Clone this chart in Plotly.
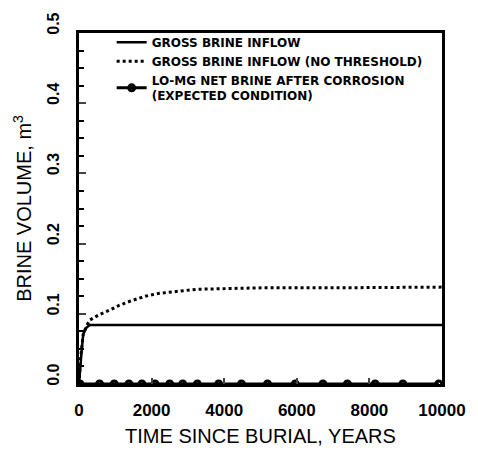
import plotly.graph_objects as go

# Gross brine inflow (with threshold)
gross_t = [0, 40, 80, 117, 200, 296, 1000, 3000, 5000, 7000, 10000]
gross_v = [0.0, 0.035, 0.052, 0.071, 0.080, 0.084, 0.084, 0.084, 0.084, 0.084, 0.084]

# Gross brine inflow (no threshold)
nothr_t = [0, 40, 117, 200, 296, 566, 836, 1105, 1464, 1824, 2183, 2542, 2902, 3261, 4160, 5050, 6850, 8500, 10000]
nothr_v = [0.0, 0.035, 0.071, 0.082, 0.091, 0.099, 0.105, 0.112, 0.119, 0.125, 0.129, 0.131, 0.134, 0.135, 0.136, 0.137, 0.137, 0.138, 0.138]

# Lo-Mg net brine after corrosion (expected condition)
net_t = [27, 566, 970, 1375, 1733, 2094, 2498, 2857, 3261, 3846, 4474, 5193, 5957, 6720, 7394, 8158, 8922, 9911]
net_v = [0.0] * len(net_t)

x_ticks = [0, 2000, 4000, 6000, 8000, 10000]
x_ticklabels = ["0", "2000", "4000", "6000", "8000", "10000"]
y_ticks = [0.0, 0.1, 0.2, 0.3, 0.4, 0.5]
y_ticklabels = ["0.0", "0.1", "0.2", "0.3", "0.4", "0.5"]

FONT = "Liberation Sans"
LFONT = "DejaVu Sans"

fig = go.Figure()
fig.add_trace(go.Scatter(
    x=gross_t, y=gross_v, mode="lines", name="GROSS BRINE INFLOW",
    line=dict(color="black", width=2.5)))
fig.add_trace(go.Scatter(
    x=nothr_t, y=nothr_v, mode="lines", name="GROSS BRINE INFLOW (NO THRESHOLD)",
    line=dict(color="black", width=3, dash="dot")))
fig.add_trace(go.Scatter(
    x=net_t, y=net_v, mode="lines+markers",
    name="LO-MG NET BRINE AFTER CORROSION<br>(EXPECTED CONDITION)",
    line=dict(color="black", width=3),
    marker=dict(symbol="circle-open", size=6, color="black", line=dict(width=3))))

fig.update_layout(
    width=478, height=456,
    margin=dict(l=79, r=28, t=25, b=68),
    plot_bgcolor="white", paper_bgcolor="white",
    font=dict(family=FONT, color="black"),
    showlegend=True,
    legend=dict(x=0.09, y=1.015, xanchor="left", yanchor="top",
                bgcolor="rgba(0,0,0,0)", itemwidth=30, tracegroupgap=0,
                font=dict(family=LFONT, size=12, weight="bold", color="black")),
    xaxis=dict(range=[0, 10000], tickvals=x_ticks, ticktext=x_ticklabels,
               ticks="inside", ticklen=6,
               tickwidth=1.5, showline=True, linewidth=2.5, linecolor="black",
               mirror=True, showgrid=False, zeroline=False,
               tickfont=dict(family=FONT, size=17, weight="bold"),
               ticklabelstandoff=9,
               title=dict(text="TIME SINCE BURIAL, YEARS", standoff=10,
                          font=dict(family=FONT, size=20))),
    yaxis=dict(range=[0, 0.5], tickvals=y_ticks, ticktext=y_ticklabels,
               ticks="inside", ticklen=7, tickwidth=1.5, tickangle=-90,
               showline=True, linewidth=2.5, linecolor="black", mirror=True,
               showgrid=False, zeroline=False,
               minor=dict(dtick=0.025, ticks="inside", ticklen=5, tickwidth=1.5, tickcolor="black"),
               tickfont=dict(family=FONT, size=16, weight="bold"),
               ticklabelshift=-7, ticklabelstandoff=11,
               title=dict(text="BRINE VOLUME, m<sup>3</sup>", standoff=8,
                          font=dict(family=FONT, size=20))),
)

fig.write_html("out.html", post_script="document.body.style.margin='0px';",
               config={"displayModeBar": False})
